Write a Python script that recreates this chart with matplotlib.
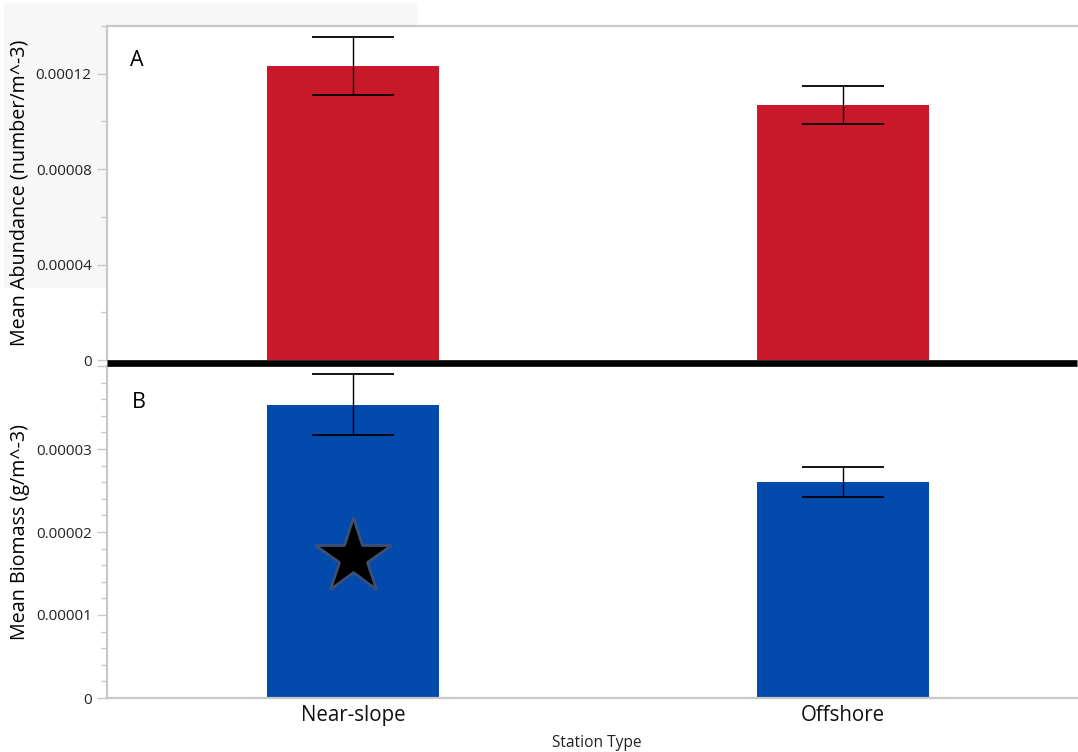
import matplotlib.pyplot as plt
from matplotlib.patches import Rectangle
from matplotlib.lines import Line2D
from matplotlib.ticker import FixedLocator, MultipleLocator

plt.rcParams['font.family'] = ['Open Sans', 'DejaVu Sans']

stations = ['Near-slope', 'Offshore']

abundance = [0.0001231, 0.0001068]
abundance_err = [0.0000122, 0.0000080]

biomass = [0.00003535, 0.00002603]
biomass_err = [0.00000372, 0.00000178]

abund_ticks = [0, 0.00004, 0.00008, 0.00012]
abund_labels = ['0', '0.00004', '0.00008', '0.00012']
bio_ticks = [0, 0.00001, 0.00002, 0.00003, 0.00004]
bio_labels = ['0', '0.00001', '0.00002', '0.00003', '']

star_y = 0.0000170

W, H = 1078, 752
fig = plt.figure(figsize=(W / 100, H / 100), dpi=100)

# light grey panel behind the upper-left corner
fig.patches.append(Rectangle((4 / W, 1 - 287 / H), 412 / W, 284 / H,
                             transform=fig.transFigure, color='#f7f7f7', zorder=-1))

ax1 = fig.add_axes([107 / W, 1 - 360 / H, 970 / W, 334 / H])
ax2 = fig.add_axes([107 / W, 1 - 698 / H, 970 / W, 332 / H])

red = '#c8182a'
blue = '#034aad'
spine_c = '#c8c8c8'
x = [0, 1]

for ax, vals, errs, col in [(ax1, abundance, abundance_err, red),
                            (ax2, biomass, biomass_err, blue)]:
    ax.bar(x, vals, width=0.35, color=col, zorder=2)
    ax.errorbar(x, vals, yerr=errs, fmt='none', ecolor='black', elinewidth=1,
                capsize=29.5, capthick=1.3, zorder=3)
    ax.set_xlim(-0.502, 1.478)
    ax.spines['right'].set_visible(False)
    for s in ['left', 'top', 'bottom']:
        ax.spines[s].set_color(spine_c)
        ax.spines[s].set_linewidth(1.6)
    ax.tick_params(axis='y', which='major', length=7, width=1, color=spine_c,
                   labelsize=11, labelcolor='#222222', pad=4)
    ax.tick_params(axis='y', which='minor', length=4, width=1, color=spine_c)
    ax.tick_params(axis='x', length=0)

ax1.spines['bottom'].set_visible(False)
ax2.spines['top'].set_visible(False)

ax1.set_ylim(0, 0.00014)
ax1.yaxis.set_major_locator(FixedLocator(abund_ticks))
ax1.set_yticklabels(abund_labels)
ax1.yaxis.set_minor_locator(MultipleLocator(0.00002))
ax1.set_xticks(x)
ax1.set_xticklabels([])

ax2.set_ylim(0, 0.00004)
ax2.yaxis.set_major_locator(FixedLocator(bio_ticks))
ax2.set_yticklabels(bio_labels)
ax2.yaxis.set_minor_locator(MultipleLocator(0.000002))
ax2.set_xticks(x)
ax2.set_xticklabels(stations, fontsize=14.8, color='#111111')
ax2.tick_params(axis='x', pad=5)

# significance star on the near-slope biomass bar
ax2.plot(0, star_y, marker='*', ms=57, color='black', mec='#3d4f73', mew=2, zorder=4)

ax1.text((137 - 107) / 970, (360 - 60) / 334, 'A', transform=ax1.transAxes,
         fontsize=15.5, ha='center', va='center')
ax2.text((139 - 107) / 970, (698 - 403) / 332, 'B', transform=ax2.transAxes,
         fontsize=15.5, ha='center', va='center')

ax1.set_ylabel('Mean Abundance (number/m^-3)', fontsize=14.2)
ax1.yaxis.set_label_coords(-(107 - 30) / 970, 0.5)
ax2.set_ylabel('Mean Biomass (g/m^-3)', fontsize=14.2)
ax2.yaxis.set_label_coords(-(107 - 30) / 970, 0.5)
ax2.set_xlabel('Station Type', fontsize=11.2, color='#222222')
ax2.xaxis.set_label_coords((597 - 107) / 970, -(735 - 698) / 332)

# heavy divider between the two panels
fig.lines.append(Line2D([107 / W, 1077 / W], [1 - 362.7 / H, 1 - 362.7 / H],
                        transform=fig.transFigure, color='black', lw=4.8,
                        solid_capstyle='butt'))

fig.savefig('out.png', dpi=100)
